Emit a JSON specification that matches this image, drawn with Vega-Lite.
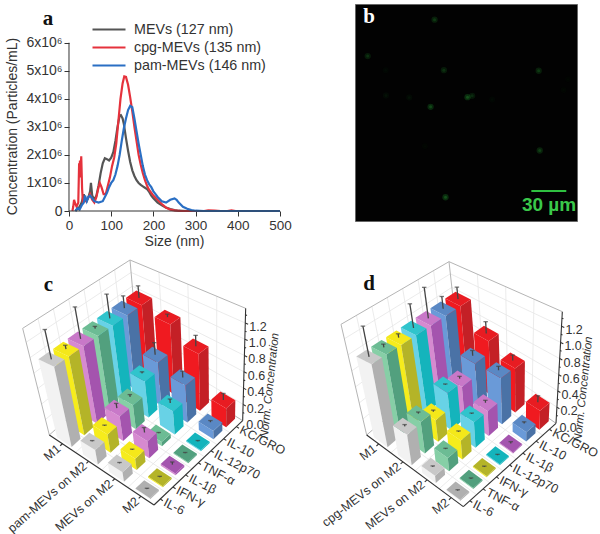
{
"$schema":"https://vega.github.io/schema/vega-lite/v6.json",
"background":"white",
"padding":{"left":0,"top":3,"right":0,"bottom":0},
"config":{"view":{"stroke":null},"font":"Liberation Sans"},
"spacing":9,
"datasets":{
"sizes":[
{"s":"MEVs (127 nm)","size":15,"n":0},{"s":"MEVs (127 nm)","size":20,"n":0.08},{"s":"MEVs (127 nm)","size":25,"n":0.15},{"s":"MEVs (127 nm)","size":30,"n":0.3},{"s":"MEVs (127 nm)","size":35,"n":0.6},{"s":"MEVs (127 nm)","size":38,"n":0.4},{"s":"MEVs (127 nm)","size":42,"n":0.35},{"s":"MEVs (127 nm)","size":46,"n":0.5},{"s":"MEVs (127 nm)","size":50,"n":0.7},{"s":"MEVs (127 nm)","size":52,"n":1.0},{"s":"MEVs (127 nm)","size":55,"n":0.55},{"s":"MEVs (127 nm)","size":60,"n":0.4},{"s":"MEVs (127 nm)","size":65,"n":0.55},{"s":"MEVs (127 nm)","size":70,"n":0.9},{"s":"MEVs (127 nm)","size":75,"n":1.35},{"s":"MEVs (127 nm)","size":80,"n":1.7},{"s":"MEVs (127 nm)","size":85,"n":1.88},{"s":"MEVs (127 nm)","size":90,"n":1.85},{"s":"MEVs (127 nm)","size":95,"n":1.8},{"s":"MEVs (127 nm)","size":100,"n":1.9},{"s":"MEVs (127 nm)","size":105,"n":2.1},{"s":"MEVs (127 nm)","size":110,"n":2.5},{"s":"MEVs (127 nm)","size":115,"n":3.0},{"s":"MEVs (127 nm)","size":120,"n":3.4},{"s":"MEVs (127 nm)","size":123,"n":3.42},{"s":"MEVs (127 nm)","size":127,"n":3.3},{"s":"MEVs (127 nm)","size":130,"n":3.1},{"s":"MEVs (127 nm)","size":135,"n":2.6},{"s":"MEVs (127 nm)","size":140,"n":2.15},{"s":"MEVs (127 nm)","size":145,"n":1.75},{"s":"MEVs (127 nm)","size":150,"n":1.45},{"s":"MEVs (127 nm)","size":155,"n":1.25},{"s":"MEVs (127 nm)","size":160,"n":1.1},{"s":"MEVs (127 nm)","size":165,"n":1.0},{"s":"MEVs (127 nm)","size":170,"n":0.93},{"s":"MEVs (127 nm)","size":175,"n":0.88},{"s":"MEVs (127 nm)","size":180,"n":0.83},{"s":"MEVs (127 nm)","size":185,"n":0.78},{"s":"MEVs (127 nm)","size":190,"n":0.68},{"s":"MEVs (127 nm)","size":195,"n":0.55},{"s":"MEVs (127 nm)","size":200,"n":0.45},{"s":"MEVs (127 nm)","size":210,"n":0.3},{"s":"MEVs (127 nm)","size":220,"n":0.2},{"s":"MEVs (127 nm)","size":230,"n":0.12},{"s":"MEVs (127 nm)","size":240,"n":0.07},{"s":"MEVs (127 nm)","size":250,"n":0.03},{"s":"MEVs (127 nm)","size":260,"n":0.01},{"s":"MEVs (127 nm)","size":280,"n":0},{"s":"MEVs (127 nm)","size":500,"n":0},
{"s":"cpg-MEVs (135 nm)","size":8,"n":0},{"s":"cpg-MEVs (135 nm)","size":10,"n":0.15},{"s":"cpg-MEVs (135 nm)","size":12,"n":0.4},{"s":"cpg-MEVs (135 nm)","size":15,"n":0.25},{"s":"cpg-MEVs (135 nm)","size":18,"n":0.15},{"s":"cpg-MEVs (135 nm)","size":22,"n":0.3},{"s":"cpg-MEVs (135 nm)","size":24,"n":1.7},{"s":"cpg-MEVs (135 nm)","size":25,"n":1.3},{"s":"cpg-MEVs (135 nm)","size":26,"n":1.8},{"s":"cpg-MEVs (135 nm)","size":27,"n":1.2},{"s":"cpg-MEVs (135 nm)","size":29,"n":1.95},{"s":"cpg-MEVs (135 nm)","size":31,"n":0.8},{"s":"cpg-MEVs (135 nm)","size":33,"n":0.3},{"s":"cpg-MEVs (135 nm)","size":36,"n":0.4},{"s":"cpg-MEVs (135 nm)","size":40,"n":0.35},{"s":"cpg-MEVs (135 nm)","size":45,"n":0.45},{"s":"cpg-MEVs (135 nm)","size":50,"n":0.6},{"s":"cpg-MEVs (135 nm)","size":55,"n":0.4},{"s":"cpg-MEVs (135 nm)","size":60,"n":0.3},{"s":"cpg-MEVs (135 nm)","size":65,"n":0.5},{"s":"cpg-MEVs (135 nm)","size":70,"n":0.85},{"s":"cpg-MEVs (135 nm)","size":73,"n":1.0},{"s":"cpg-MEVs (135 nm)","size":77,"n":0.85},{"s":"cpg-MEVs (135 nm)","size":82,"n":0.6},{"s":"cpg-MEVs (135 nm)","size":87,"n":0.6},{"s":"cpg-MEVs (135 nm)","size":92,"n":0.9},{"s":"cpg-MEVs (135 nm)","size":97,"n":1.2},{"s":"cpg-MEVs (135 nm)","size":102,"n":1.6},{"s":"cpg-MEVs (135 nm)","size":107,"n":1.9},{"s":"cpg-MEVs (135 nm)","size":112,"n":2.4},{"s":"cpg-MEVs (135 nm)","size":117,"n":3.2},{"s":"cpg-MEVs (135 nm)","size":122,"n":4.0},{"s":"cpg-MEVs (135 nm)","size":127,"n":4.55},{"s":"cpg-MEVs (135 nm)","size":131,"n":4.8},{"s":"cpg-MEVs (135 nm)","size":135,"n":4.78},{"s":"cpg-MEVs (135 nm)","size":140,"n":4.5},{"s":"cpg-MEVs (135 nm)","size":145,"n":4.05},{"s":"cpg-MEVs (135 nm)","size":150,"n":3.55},{"s":"cpg-MEVs (135 nm)","size":155,"n":3.0},{"s":"cpg-MEVs (135 nm)","size":160,"n":2.5},{"s":"cpg-MEVs (135 nm)","size":165,"n":2.0},{"s":"cpg-MEVs (135 nm)","size":170,"n":1.65},{"s":"cpg-MEVs (135 nm)","size":175,"n":1.35},{"s":"cpg-MEVs (135 nm)","size":180,"n":1.1},{"s":"cpg-MEVs (135 nm)","size":185,"n":0.9},{"s":"cpg-MEVs (135 nm)","size":190,"n":0.75},{"s":"cpg-MEVs (135 nm)","size":200,"n":0.55},{"s":"cpg-MEVs (135 nm)","size":210,"n":0.4},{"s":"cpg-MEVs (135 nm)","size":220,"n":0.25},{"s":"cpg-MEVs (135 nm)","size":230,"n":0.12},{"s":"cpg-MEVs (135 nm)","size":240,"n":0.05},{"s":"cpg-MEVs (135 nm)","size":250,"n":0.02},{"s":"cpg-MEVs (135 nm)","size":265,"n":0},{"s":"cpg-MEVs (135 nm)","size":320,"n":0},{"s":"cpg-MEVs (135 nm)","size":330,"n":0.02},{"s":"cpg-MEVs (135 nm)","size":345,"n":0.01},{"s":"cpg-MEVs (135 nm)","size":360,"n":0},{"s":"cpg-MEVs (135 nm)","size":375,"n":0},{"s":"cpg-MEVs (135 nm)","size":385,"n":0.02},{"s":"cpg-MEVs (135 nm)","size":395,"n":0},{"s":"cpg-MEVs (135 nm)","size":500,"n":0},
{"s":"pam-MEVs (146 nm)","size":15,"n":0},{"s":"pam-MEVs (146 nm)","size":20,"n":0.1},{"s":"pam-MEVs (146 nm)","size":25,"n":0.05},{"s":"pam-MEVs (146 nm)","size":30,"n":0.2},{"s":"pam-MEVs (146 nm)","size":35,"n":0.3},{"s":"pam-MEVs (146 nm)","size":38,"n":0.55},{"s":"pam-MEVs (146 nm)","size":42,"n":0.35},{"s":"pam-MEVs (146 nm)","size":46,"n":0.5},{"s":"pam-MEVs (146 nm)","size":50,"n":0.55},{"s":"pam-MEVs (146 nm)","size":55,"n":0.45},{"s":"pam-MEVs (146 nm)","size":60,"n":0.35},{"s":"pam-MEVs (146 nm)","size":70,"n":0.3},{"s":"pam-MEVs (146 nm)","size":80,"n":0.35},{"s":"pam-MEVs (146 nm)","size":85,"n":0.5},{"s":"pam-MEVs (146 nm)","size":90,"n":0.65},{"s":"pam-MEVs (146 nm)","size":95,"n":0.85},{"s":"pam-MEVs (146 nm)","size":100,"n":1.0},{"s":"pam-MEVs (146 nm)","size":105,"n":1.1},{"s":"pam-MEVs (146 nm)","size":110,"n":1.3},{"s":"pam-MEVs (146 nm)","size":115,"n":1.6},{"s":"pam-MEVs (146 nm)","size":120,"n":2.0},{"s":"pam-MEVs (146 nm)","size":125,"n":2.5},{"s":"pam-MEVs (146 nm)","size":130,"n":2.95},{"s":"pam-MEVs (146 nm)","size":135,"n":3.3},{"s":"pam-MEVs (146 nm)","size":140,"n":3.6},{"s":"pam-MEVs (146 nm)","size":145,"n":3.75},{"s":"pam-MEVs (146 nm)","size":150,"n":3.7},{"s":"pam-MEVs (146 nm)","size":155,"n":3.3},{"s":"pam-MEVs (146 nm)","size":160,"n":2.85},{"s":"pam-MEVs (146 nm)","size":165,"n":2.4},{"s":"pam-MEVs (146 nm)","size":170,"n":2.0},{"s":"pam-MEVs (146 nm)","size":175,"n":1.6},{"s":"pam-MEVs (146 nm)","size":180,"n":1.3},{"s":"pam-MEVs (146 nm)","size":185,"n":1.1},{"s":"pam-MEVs (146 nm)","size":190,"n":0.95},{"s":"pam-MEVs (146 nm)","size":195,"n":0.85},{"s":"pam-MEVs (146 nm)","size":200,"n":0.7},{"s":"pam-MEVs (146 nm)","size":205,"n":0.6},{"s":"pam-MEVs (146 nm)","size":210,"n":0.5},{"s":"pam-MEVs (146 nm)","size":220,"n":0.35},{"s":"pam-MEVs (146 nm)","size":230,"n":0.3},{"s":"pam-MEVs (146 nm)","size":240,"n":0.4},{"s":"pam-MEVs (146 nm)","size":250,"n":0.45},{"s":"pam-MEVs (146 nm)","size":255,"n":0.4},{"s":"pam-MEVs (146 nm)","size":260,"n":0.3},{"s":"pam-MEVs (146 nm)","size":270,"n":0.15},{"s":"pam-MEVs (146 nm)","size":280,"n":0.08},{"s":"pam-MEVs (146 nm)","size":290,"n":0.03},{"s":"pam-MEVs (146 nm)","size":300,"n":0.01},{"s":"pam-MEVs (146 nm)","size":320,"n":0},{"s":"pam-MEVs (146 nm)","size":500,"n":0}
],
"spots":[
{"x":68.3,"y":13.4,"i":0.7},{"x":10.9,"y":44.6,"i":0.6},{"x":76.3,"y":56.6,"i":0.6},{"x":157.7,"y":57.1,"i":0.7},{"x":96.6,"y":79.7,"i":1},{"x":100.6,"y":78.6,"i":0.5},{"x":64.9,"y":88,"i":0.9},{"x":158.6,"y":125.4,"i":0.8},{"x":77.7,"y":165.4,"i":1},
{"x":26.6,"y":78.3,"i":0.2},{"x":46.6,"y":80,"i":0.2},{"x":26.3,"y":56.6,"i":0.12},{"x":117.7,"y":81.7,"i":0.12},{"x":60,"y":121.7,"i":0.1},{"x":179.1,"y":73.7,"i":0.1},{"x":182.9,"y":64.3,"i":0.08}
],
"grid":[
{"k":"g","u":[0,0],"v":[0,1],"h":[0.2,0.2]},{"k":"g","u":[0,0],"v":[0,1],"h":[0.4,0.4]},{"k":"g","u":[0,0],"v":[0,1],"h":[0.6,0.6]},{"k":"g","u":[0,0],"v":[0,1],"h":[0.8,0.8]},{"k":"g","u":[0,0],"v":[0,1],"h":[1,1]},{"k":"g","u":[0,0],"v":[0,1],"h":[1.2,1.2]},
{"k":"g","u":[0,1],"v":[1,1],"h":[0.2,0.2]},{"k":"g","u":[0,1],"v":[1,1],"h":[0.4,0.4]},{"k":"g","u":[0,1],"v":[1,1],"h":[0.6,0.6]},{"k":"g","u":[0,1],"v":[1,1],"h":[0.8,0.8]},{"k":"g","u":[0,1],"v":[1,1],"h":[1,1]},{"k":"g","u":[0,1],"v":[1,1],"h":[1.2,1.2]},
{"k":"g","u":[0,0],"v":[0.143,0.143],"h":[0,1.38]},{"k":"g","u":[0,0],"v":[0.286,0.286],"h":[0,1.38]},{"k":"g","u":[0,0],"v":[0.429,0.429],"h":[0,1.38]},{"k":"g","u":[0,0],"v":[0.571,0.571],"h":[0,1.38]},{"k":"g","u":[0,0],"v":[0.714,0.714],"h":[0,1.38]},{"k":"g","u":[0,0],"v":[0.857,0.857],"h":[0,1.38]},
{"k":"g","u":[0.25,0.25],"v":[1,1],"h":[0,1.38]},{"k":"g","u":[0.5,0.5],"v":[1,1],"h":[0,1.38]},{"k":"g","u":[0.75,0.75],"v":[1,1],"h":[0,1.38]},
{"k":"g","u":[0.25,0.25],"v":[0,1],"h":[0,0]},{"k":"g","u":[0.5,0.5],"v":[0,1],"h":[0,0]},{"k":"g","u":[0.75,0.75],"v":[0,1],"h":[0,0]},
{"k":"g","u":[0,1],"v":[0.143,0.143],"h":[0,0]},{"k":"g","u":[0,1],"v":[0.286,0.286],"h":[0,0]},{"k":"g","u":[0,1],"v":[0.429,0.429],"h":[0,0]},{"k":"g","u":[0,1],"v":[0.571,0.571],"h":[0,0]},{"k":"g","u":[0,1],"v":[0.714,0.714],"h":[0,0]},{"k":"g","u":[0,1],"v":[0.857,0.857],"h":[0,0]},
{"k":"f","u":[0,0],"v":[0,0],"h":[0,1.38]},{"k":"f","u":[0,0],"v":[0,1],"h":[1.38,1.38]},{"k":"f","u":[0,1],"v":[1,1],"h":[1.38,1.38]},{"k":"f","u":[0,0],"v":[1,1],"h":[0,1.38]},{"k":"f","u":[0,0],"v":[0,1],"h":[0,0]},{"k":"f","u":[0,1],"v":[1,1],"h":[0,0]},
{"k":"a","u":[0,1],"v":[0,0],"h":[0,0]},{"k":"a","u":[1,1],"v":[0,1],"h":[0,0]},{"k":"a","u":[1,1],"v":[1,1],"h":[0,1.38]},
{"k":"a","u":[0.125,0.125],"v":[0,-0.025],"h":[0,0]},{"k":"a","u":[0.375,0.375],"v":[0,-0.025],"h":[0,0]},{"k":"a","u":[0.625,0.625],"v":[0,-0.025],"h":[0,0]},{"k":"a","u":[0.875,0.875],"v":[0,-0.025],"h":[0,0]},
{"k":"a","u":[1,1.025],"v":[0.071,0.071],"h":[0,0]},{"k":"a","u":[1,1.025],"v":[0.214,0.214],"h":[0,0]},{"k":"a","u":[1,1.025],"v":[0.357,0.357],"h":[0,0]},{"k":"a","u":[1,1.025],"v":[0.5,0.5],"h":[0,0]},{"k":"a","u":[1,1.025],"v":[0.643,0.643],"h":[0,0]},{"k":"a","u":[1,1.025],"v":[0.786,0.786],"h":[0,0]},{"k":"a","u":[1,1.025],"v":[0.929,0.929],"h":[0,0]},
{"k":"a","u":[1,1.025],"v":[1,1],"h":[0.2,0.2]},{"k":"a","u":[1,1.025],"v":[1,1],"h":[0.4,0.4]},{"k":"a","u":[1,1.025],"v":[1,1],"h":[0.6,0.6]},{"k":"a","u":[1,1.025],"v":[1,1],"h":[0.8,0.8]},{"k":"a","u":[1,1.025],"v":[1,1],"h":[1,1]},{"k":"a","u":[1,1.025],"v":[1,1],"h":[1.2,1.2]},
{"k":"a","u":[1,1.013],"v":[1,1],"h":[0.1,0.1]},{"k":"a","u":[1,1.013],"v":[1,1],"h":[0.3,0.3]},{"k":"a","u":[1,1.013],"v":[1,1],"h":[0.5,0.5]},{"k":"a","u":[1,1.013],"v":[1,1],"h":[0.7,0.7]},{"k":"a","u":[1,1.013],"v":[1,1],"h":[0.9,0.9]},{"k":"a","u":[1,1.013],"v":[1,1],"h":[1.1,1.1]},{"k":"a","u":[1,1.013],"v":[1,1],"h":[1.3,1.3]}
],
"labelsC":[
{"a":"u","t":"M1","u":0.125,"v":-0.04,"h":0},{"a":"u","t":"pam-MEVs on M2","u":0.375,"v":-0.04,"h":0},{"a":"u","t":"MEVs on M2","u":0.625,"v":-0.04,"h":0},{"a":"u","t":"M2","u":0.875,"v":-0.04,"h":0},
{"a":"v","t":"IL-6","u":1.04,"v":0.071,"h":0},{"a":"v","t":"IFN-γ","u":1.04,"v":0.214,"h":0},{"a":"v","t":"IL-1β","u":1.04,"v":0.357,"h":0},{"a":"v","t":"TNF-α","u":1.04,"v":0.5,"h":0},{"a":"v","t":"IL-12p70","u":1.04,"v":0.643,"h":0},{"a":"v","t":"IL-10","u":1.04,"v":0.786,"h":0},{"a":"v","t":"KC/GRO","u":1.04,"v":0.929,"h":0},
{"a":"z","t":"0.0","u":1.035,"v":1,"h":0},{"a":"z","t":"0.2","u":1.035,"v":1,"h":0.2},{"a":"z","t":"0.4","u":1.035,"v":1,"h":0.4},{"a":"z","t":"0.6","u":1.035,"v":1,"h":0.6},{"a":"z","t":"0.8","u":1.035,"v":1,"h":0.8},{"a":"z","t":"1.0","u":1.035,"v":1,"h":1},{"a":"z","t":"1.2","u":1.035,"v":1,"h":1.2},
{"a":"t","t":"Norm. Concentration","u":1.24,"v":1,"h":0.6}
],
"labelsD":[
{"a":"u","t":"M1","u":0.125,"v":-0.04,"h":0},{"a":"u","t":"cpg-MEVs on M2","u":0.375,"v":-0.04,"h":0},{"a":"u","t":"MEVs on M2","u":0.625,"v":-0.04,"h":0},{"a":"u","t":"M2","u":0.875,"v":-0.04,"h":0},
{"a":"v","t":"IL-6","u":1.04,"v":0.071,"h":0},{"a":"v","t":"TNF-α","u":1.04,"v":0.214,"h":0},{"a":"v","t":"IFN-γ","u":1.04,"v":0.357,"h":0},{"a":"v","t":"IL-12p70","u":1.04,"v":0.5,"h":0},{"a":"v","t":"IL-1β","u":1.04,"v":0.643,"h":0},{"a":"v","t":"IL-10","u":1.04,"v":0.786,"h":0},{"a":"v","t":"KC/GRO","u":1.04,"v":0.929,"h":0},
{"a":"z","t":"0.0","u":1.035,"v":1,"h":0},{"a":"z","t":"0.2","u":1.035,"v":1,"h":0.2},{"a":"z","t":"0.4","u":1.035,"v":1,"h":0.4},{"a":"z","t":"0.6","u":1.035,"v":1,"h":0.6},{"a":"z","t":"0.8","u":1.035,"v":1,"h":0.8},{"a":"z","t":"1.0","u":1.035,"v":1,"h":1},{"a":"z","t":"1.2","u":1.035,"v":1,"h":1.2},
{"a":"t","t":"Norm. Concentration","u":1.24,"v":1,"h":0.6}
],
"barsC":[
{"g":"M1","c":"KC/GRO","value":1,"err":0.17},{"g":"M1","c":"IL-10","value":1,"err":0.17},{"g":"M1","c":"IL-12p70","value":1,"err":0.33},{"g":"M1","c":"TNF-α","value":1,"err":0.03},{"g":"M1","c":"IL-1β","value":1,"err":0.42},{"g":"M1","c":"IFN-γ","value":1,"err":0.05},{"g":"M1","c":"IL-6","value":1,"err":0.38},
{"g":"pam-MEVs on M2","c":"KC/GRO","value":0.92,"err":0.04},{"g":"pam-MEVs on M2","c":"IL-10","value":0.56,"err":0.16},{"g":"pam-MEVs on M2","c":"IL-12p70","value":0.46,"err":0.02},{"g":"pam-MEVs on M2","c":"TNF-α","value":0.3,"err":0.03},{"g":"pam-MEVs on M2","c":"IL-1β","value":0.3,"err":0.06},{"g":"pam-MEVs on M2","c":"IFN-γ","value":0.22,"err":0.01},{"g":"pam-MEVs on M2","c":"IL-6","value":0.17,"err":0.01},
{"g":"MEVs on M2","c":"KC/GRO","value":0.72,"err":0.14},{"g":"MEVs on M2","c":"IL-10","value":0.46,"err":0.08},{"g":"MEVs on M2","c":"IL-12p70","value":0.28,"err":0.05},{"g":"MEVs on M2","c":"TNF-α","value":0.05,"err":0.01},{"g":"MEVs on M2","c":"IL-1β","value":0.2,"err":0.06},{"g":"MEVs on M2","c":"IFN-γ","value":0.13,"err":0.01},{"g":"MEVs on M2","c":"IL-6","value":0.11,"err":0.01},
{"g":"M2","c":"KC/GRO","value":0.23,"err":0.08},{"g":"M2","c":"IL-10","value":0.1,"err":0.02},{"g":"M2","c":"IL-12p70","value":0.012,"err":0.01},{"g":"M2","c":"TNF-α","value":0.012,"err":0.01},{"g":"M2","c":"IL-1β","value":0.02,"err":0.03},{"g":"M2","c":"IFN-γ","value":0.012,"err":0.01},{"g":"M2","c":"IL-6","value":0.012,"err":0.01}
],
"barsD":[
{"g":"M1","c":"KC/GRO","value":1,"err":0.17},{"g":"M1","c":"IL-10","value":1,"err":0.17},{"g":"M1","c":"IL-1β","value":1,"err":0.42},{"g":"M1","c":"IL-12p70","value":1,"err":0.32},{"g":"M1","c":"IFN-γ","value":1,"err":0.05},{"g":"M1","c":"TNF-α","value":1,"err":0.04},{"g":"M1","c":"IL-6","value":1,"err":0.38},
{"g":"cpg-MEVs on M2","c":"KC/GRO","value":0.72,"err":0.16},{"g":"cpg-MEVs on M2","c":"IL-10","value":0.56,"err":0.07},{"g":"cpg-MEVs on M2","c":"IL-1β","value":0.4,"err":0.03},{"g":"cpg-MEVs on M2","c":"IL-12p70","value":0.46,"err":0.01},{"g":"cpg-MEVs on M2","c":"IFN-γ","value":0.26,"err":0.02},{"g":"cpg-MEVs on M2","c":"TNF-α","value":0.37,"err":0.02},{"g":"cpg-MEVs on M2","c":"IL-6","value":0.35,"err":0.02},
{"g":"MEVs on M2","c":"KC/GRO","value":0.56,"err":0.07},{"g":"MEVs on M2","c":"IL-10","value":0.57,"err":0.05},{"g":"MEVs on M2","c":"IL-1β","value":0.3,"err":0.03},{"g":"MEVs on M2","c":"IL-12p70","value":0.3,"err":0.01},{"g":"MEVs on M2","c":"IFN-γ","value":0.22,"err":0.01},{"g":"MEVs on M2","c":"TNF-α","value":0.15,"err":0.01},{"g":"MEVs on M2","c":"IL-6","value":0.08,"err":0.01},
{"g":"M2","c":"KC/GRO","value":0.23,"err":0.08},{"g":"M2","c":"IL-10","value":0.11,"err":0.02},{"g":"M2","c":"IL-1β","value":0.012,"err":0.02},{"g":"M2","c":"IL-12p70","value":0.012,"err":0.01},{"g":"M2","c":"IFN-γ","value":0.012,"err":0.01},{"g":"M2","c":"TNF-α","value":0.012,"err":0.01},{"g":"M2","c":"IL-6","value":0.012,"err":0.01}
]
},
"vconcat":[
{"hconcat":[
{"width":280,"height":207,
"encoding":{
"x":{"field":"size","type":"quantitative","scale":{"domain":[-163.5,500],"nice":false},"axis":{"values":[0,100,200,300,400,500],"title":"Size (nm)","titleFontSize":14,"titleFontWeight":"normal","labelFontSize":13.5,"labelColor":"#333","titleColor":"#333","grid":false,"domain":false,"tickColor":"#333","tickSize":5,"titlePadding":3,"labelPadding":2,"titleX":174,"labelFlush":false}},
"y":{"field":"n","type":"quantitative","scale":{"domain":[0,7.38],"nice":false},"axis":{"values":[0,1,2,3,4,5,6],"labelExpr":"datum.value==0?'0':datum.value+'x10⁶'","title":"Concentration (Particles/mL)","titleFontSize":14,"titleFontWeight":"normal","labelFontSize":14,"labelColor":"#333","titleColor":"#333","grid":false,"domain":false,"tickColor":"#333","tickSize":5,"labelPadding":2,"offset":-69,"titleX":-50,"titleY":122,"labelOverlap":false}}
},
"layer":[
{"data":{"name":"sizes"},"mark":{"type":"line","strokeWidth":2.2},
"encoding":{
"color":{"field":"s","type":"nominal","scale":{"domain":["MEVs (127 nm)","cpg-MEVs (135 nm)","pam-MEVs (146 nm)"],"range":["#555555","#e5323c","#2a6fc4"]},"legend":{"orient":"none","legendX":91,"legendY":17,"title":null,"symbolType":"stroke","symbolStrokeWidth":2.2,"symbolSize":1089,"labelFontSize":14.3,"labelColor":"#333","rowPadding":1,"clipHeight":17,"labelOffset":7}},
"order":{"field":"size"}
}},
{"data":{"values":[{"size":0,"n":0,"n2":6}]},"mark":{"type":"rule","color":"#333"},"encoding":{"y2":{"field":"n2"}}},
{"data":{"values":[{"size":0,"n":0,"s2":500}]},"mark":{"type":"rule","color":"#333"},"encoding":{"x2":{"field":"s2"}}},
{"data":{"values":[{"size":-50,"n":6.84,"t":"a"}]},"mark":{"type":"text","font":"Liberation Serif","fontWeight":"bold","fontSize":21,"color":"#111"},"encoding":{"text":{"field":"t"}}}
]},
{"width":222,"height":217,"view":{"fill":"#020202","stroke":"#666666"},
"encoding":{
"x":{"field":"x","type":"quantitative","scale":{"domain":[0,190.6],"nice":false},"axis":null},
"y":{"field":"y","type":"quantitative","scale":{"domain":[185.7,0],"nice":false},"axis":null}},
"layer":[
{"data":{"name":"spots"},"mark":{"type":"circle","color":"#2fd040"},"encoding":{
"opacity":{"field":"i","type":"quantitative","scale":{"domain":[0,1],"range":[0,0.2]},"legend":null},
"size":{"value":40}}},
{"data":{"name":"spots"},"mark":{"type":"circle","color":"#35e04a"},"encoding":{
"opacity":{"field":"i","type":"quantitative","scale":{"domain":[0,1],"range":[0,1]},"legend":null},
"size":{"value":9}}},
{"data":{"values":[{"x":151.4,"x2":181.4,"y":160}]},"mark":{"type":"rule","color":"#2fc040","strokeWidth":2},"encoding":{"x2":{"field":"x2"}}},
{"data":{"values":[{"x":166.6,"y":172,"t":"30 µm"}]},"mark":{"type":"text","color":"#3ac84a","fontWeight":"bold","fontSize":19,"font":"Liberation Sans"},"encoding":{"text":{"field":"t"}}},
{"data":{"values":[{"x":12,"y":11,"t":"b"}]},"mark":{"type":"text","color":"#ffffff","fontWeight":"bold","fontSize":21,"font":"Liberation Serif"},"encoding":{"text":{"field":"t"}}}
]}
],"spacing":62},
{"hconcat":[
{"width":300,"height":274,
"encoding":{"x":{"field":"px","type":"quantitative","scale":{"domain":[0,900],"nice":false},"axis":null},"y":{"field":"py","type":"quantitative","scale":{"domain":[822,0],"nice":false},"axis":null}},
"layer":[
{"data":{"name":"grid"},"transform":[{"window":[{"op":"row_number","as":"id"}]},{"flatten":["u","v","h"]},
{"calculate":"(1-datum.h/1.38)*(148+314*datum.u+267*datum.v-datum.u*datum.v)+datum.h/1.38*(68+347*datum.u+322*datum.v)","as":"px"},
{"calculate":"(1-datum.h/1.38)*(525+210*datum.u-240*datum.v-13*datum.u*datum.v)+datum.h/1.38*(205+145*datum.u-205*datum.v)","as":"py"}],
"encoding":{"detail":{"field":"id"}},
"layer":[
{"transform":[{"filter":"datum.k=='g'"}],"mark":{"type":"line","stroke":"#e6e6e6","strokeWidth":0.8}},
{"transform":[{"filter":"datum.k=='f'"}],"mark":{"type":"line","stroke":"#b5b5b5","strokeWidth":1}},
{"transform":[{"filter":"datum.k=='a'"}],"mark":{"type":"line","stroke":"#333333","strokeWidth":1.1}}
]},
{"data":{"name":"barsC"},"transform":[
{"calculate":"indexof(['M1','pam-MEVs on M2','MEVs on M2','M2'],datum.g)","as":"gi"},
{"calculate":"indexof(['IL-6','IFN-γ','IL-1β','TNF-α','IL-12p70','IL-10','KC/GRO'],datum.c)","as":"ci"},
{"calculate":"[0,1,2]","as":"face"},{"flatten":["face"]},{"calculate":"[0,1,2,3]","as":"k"},{"flatten":["k"]},
{"calculate":"(datum.gi+0.5)/4+0.07*[[-1,1,1,-1],[1,1,1,1],[-1,1,1,-1]][datum.face][datum.k]","as":"u"},
{"calculate":"(datum.ci+0.5)/7+0.05*[[-1,-1,-1,-1],[-1,1,1,-1],[-1,-1,1,1]][datum.face][datum.k]","as":"v"},
{"calculate":"datum.value*[[0,0,1,1],[0,0,1,1],[1,1,1,1]][datum.face][datum.k]","as":"h"},
{"calculate":"(1-datum.h/1.38)*(148+314*datum.u+267*datum.v-datum.u*datum.v)+datum.h/1.38*(68+347*datum.u+322*datum.v)","as":"px"},
{"calculate":"(1-datum.h/1.38)*(525+210*datum.u-240*datum.v-13*datum.u*datum.v)+datum.h/1.38*(205+145*datum.u-205*datum.v)","as":"py"},
{"calculate":"datum.c+'-'+(datum.face==0?'L':(datum.face==1||datum.value<0.03)?'D':'T')","as":"fk"},
{"calculate":"datum.g+'|'+datum.c+'|'+datum.face","as":"pid"}],
"mark":{"type":"line","strokeWidth":0},
"encoding":{"detail":{"field":"pid"},"order":{"field":"k"},
"fill":{"field":"fk","type":"nominal","legend":null,"scale":{"domain":["IL-6-L","IL-6-D","IL-6-T","IFN-γ-L","IFN-γ-D","IFN-γ-T","IL-1β-L","IL-1β-D","IL-1β-T","TNF-α-L","TNF-α-D","TNF-α-T","IL-12p70-L","IL-12p70-D","IL-12p70-T","IL-10-L","IL-10-D","IL-10-T","KC/GRO-L","KC/GRO-D","KC/GRO-T"],"range":["#f2f2f2","#b0b0b0","#c8c8c8","#f6ec1c","#b4b428","#f4e81a","#d68ad0","#a454ae","#c878c8","#86cfa6","#52a07e","#6cbc94","#68d2e6","#14b4bc","#30c4cc","#6a9ad8","#4a72a6","#5a88c4","#f01a20","#c42026","#e81c22"]}}}},
{"data":{"name":"barsC"},"transform":[
{"calculate":"(indexof(['M1','pam-MEVs on M2','MEVs on M2','M2'],datum.g)+0.5)/4","as":"u"},
{"calculate":"(indexof(['IL-6','IFN-γ','IL-1β','TNF-α','IL-12p70','IL-10','KC/GRO'],datum.c)+0.5)/7","as":"v"},
{"calculate":"[datum.value,datum.value+datum.err]","as":"h"},{"flatten":["h"]},
{"calculate":"(1-datum.h/1.38)*(148+314*datum.u+267*datum.v-datum.u*datum.v)+datum.h/1.38*(68+347*datum.u+322*datum.v)","as":"px"},
{"calculate":"(1-datum.h/1.38)*(525+210*datum.u-240*datum.v-13*datum.u*datum.v)+datum.h/1.38*(205+145*datum.u-205*datum.v)","as":"py"},
{"calculate":"datum.g+'|'+datum.c","as":"pid"}],
"layer":[
{"mark":{"type":"line","stroke":"#444444","strokeWidth":1.3},"encoding":{"detail":{"field":"pid"}}},
{"transform":[{"filter":"datum.h>datum.value"}],"mark":{"type":"point","shape":"stroke","stroke":"#444444","strokeWidth":1.3,"size":20}}
]},
{"data":{"name":"labelsC"},"transform":[
{"calculate":"(1-datum.h/1.38)*(148+314*datum.u+267*datum.v-datum.u*datum.v)+datum.h/1.38*(68+347*datum.u+322*datum.v)","as":"px"},
{"calculate":"(1-datum.h/1.38)*(525+210*datum.u-240*datum.v-13*datum.u*datum.v)+datum.h/1.38*(205+145*datum.u-205*datum.v)","as":"py"}],
"encoding":{"text":{"field":"t"}},
"layer":[
{"transform":[{"filter":"datum.a=='u'"}],"mark":{"type":"text","align":"right","baseline":"middle","angle":319,"fontSize":12.5,"color":"#333"}},
{"transform":[{"filter":"datum.a=='v'"}],"mark":{"type":"text","align":"left","baseline":"middle","angle":27,"fontSize":12.5,"color":"#333"}},
{"transform":[{"filter":"datum.a=='z'"}],"mark":{"type":"text","align":"left","baseline":"middle","fontSize":12.5,"color":"#333","dy":2}},
{"transform":[{"filter":"datum.a=='t'"}],"mark":{"type":"text","align":"center","baseline":"middle","angle":276,"fontSize":11.5,"fontStyle":"italic","color":"#333"}}
]},
{"data":{"values":[{"px":145,"py":75,"t":"c"}]},"mark":{"type":"text","font":"Liberation Serif","fontWeight":"bold","fontSize":21,"color":"#111"},"encoding":{"text":{"field":"t"}}}
]},
{"width":300,"height":274,
"encoding":{"x":{"field":"px","type":"quantitative","scale":{"domain":[0,900],"nice":false},"axis":null},"y":{"field":"py","type":"quantitative","scale":{"domain":[822,0],"nice":false},"axis":null}},
"layer":[
{"data":{"name":"grid"},"transform":[{"window":[{"op":"row_number","as":"id"}]},{"flatten":["u","v","h"]},
{"calculate":"(1-datum.h/1.38)*(200+290*datum.u+278*datum.v)+datum.h/1.38*(123+340*datum.u+324*datum.v)","as":"px"},
{"calculate":"(1-datum.h/1.38)*(525+215*datum.u-240*datum.v-10*datum.u*datum.v)+datum.h/1.38*(193+150*datum.u-188*datum.v)","as":"py"}],
"encoding":{"detail":{"field":"id"}},
"layer":[
{"transform":[{"filter":"datum.k=='g'"}],"mark":{"type":"line","stroke":"#e6e6e6","strokeWidth":0.8}},
{"transform":[{"filter":"datum.k=='f'"}],"mark":{"type":"line","stroke":"#b5b5b5","strokeWidth":1}},
{"transform":[{"filter":"datum.k=='a'"}],"mark":{"type":"line","stroke":"#333333","strokeWidth":1.1}}
]},
{"data":{"name":"barsD"},"transform":[
{"calculate":"indexof(['M1','cpg-MEVs on M2','MEVs on M2','M2'],datum.g)","as":"gi"},
{"calculate":"indexof(['IL-6','TNF-α','IFN-γ','IL-12p70','IL-1β','IL-10','KC/GRO'],datum.c)","as":"ci"},
{"calculate":"[0,1,2]","as":"face"},{"flatten":["face"]},{"calculate":"[0,1,2,3]","as":"k"},{"flatten":["k"]},
{"calculate":"(datum.gi+0.5)/4+0.07*[[-1,1,1,-1],[1,1,1,1],[-1,1,1,-1]][datum.face][datum.k]","as":"u"},
{"calculate":"(datum.ci+0.5)/7+0.05*[[-1,-1,-1,-1],[-1,1,1,-1],[-1,-1,1,1]][datum.face][datum.k]","as":"v"},
{"calculate":"datum.value*[[0,0,1,1],[0,0,1,1],[1,1,1,1]][datum.face][datum.k]","as":"h"},
{"calculate":"(1-datum.h/1.38)*(200+290*datum.u+278*datum.v)+datum.h/1.38*(123+340*datum.u+324*datum.v)","as":"px"},
{"calculate":"(1-datum.h/1.38)*(525+215*datum.u-240*datum.v-10*datum.u*datum.v)+datum.h/1.38*(193+150*datum.u-188*datum.v)","as":"py"},
{"calculate":"datum.c+'-'+(datum.face==0?'L':(datum.face==1||datum.value<0.03)?'D':'T')","as":"fk"},
{"calculate":"datum.g+'|'+datum.c+'|'+datum.face","as":"pid"}],
"mark":{"type":"line","strokeWidth":0},
"encoding":{"detail":{"field":"pid"},"order":{"field":"k"},
"fill":{"field":"fk","type":"nominal","legend":null,"scale":{"domain":["IL-6-L","IL-6-D","IL-6-T","IFN-γ-L","IFN-γ-D","IFN-γ-T","IL-1β-L","IL-1β-D","IL-1β-T","TNF-α-L","TNF-α-D","TNF-α-T","IL-12p70-L","IL-12p70-D","IL-12p70-T","IL-10-L","IL-10-D","IL-10-T","KC/GRO-L","KC/GRO-D","KC/GRO-T"],"range":["#f2f2f2","#b0b0b0","#c8c8c8","#f6ec1c","#b4b428","#f4e81a","#d68ad0","#a454ae","#c878c8","#86cfa6","#52a07e","#6cbc94","#68d2e6","#14b4bc","#30c4cc","#6a9ad8","#4a72a6","#5a88c4","#f01a20","#c42026","#e81c22"]}}}},
{"data":{"name":"barsD"},"transform":[
{"calculate":"(indexof(['M1','cpg-MEVs on M2','MEVs on M2','M2'],datum.g)+0.5)/4","as":"u"},
{"calculate":"(indexof(['IL-6','TNF-α','IFN-γ','IL-12p70','IL-1β','IL-10','KC/GRO'],datum.c)+0.5)/7","as":"v"},
{"calculate":"[datum.value,datum.value+datum.err]","as":"h"},{"flatten":["h"]},
{"calculate":"(1-datum.h/1.38)*(200+290*datum.u+278*datum.v)+datum.h/1.38*(123+340*datum.u+324*datum.v)","as":"px"},
{"calculate":"(1-datum.h/1.38)*(525+215*datum.u-240*datum.v-10*datum.u*datum.v)+datum.h/1.38*(193+150*datum.u-188*datum.v)","as":"py"},
{"calculate":"datum.g+'|'+datum.c","as":"pid"}],
"layer":[
{"mark":{"type":"line","stroke":"#444444","strokeWidth":1.3},"encoding":{"detail":{"field":"pid"}}},
{"transform":[{"filter":"datum.h>datum.value"}],"mark":{"type":"point","shape":"stroke","stroke":"#444444","strokeWidth":1.3,"size":20}}
]},
{"data":{"name":"labelsD"},"transform":[
{"calculate":"(1-datum.h/1.38)*(200+290*datum.u+278*datum.v)+datum.h/1.38*(123+340*datum.u+324*datum.v)","as":"px"},
{"calculate":"(1-datum.h/1.38)*(525+215*datum.u-240*datum.v-10*datum.u*datum.v)+datum.h/1.38*(193+150*datum.u-188*datum.v)","as":"py"}],
"encoding":{"text":{"field":"t"}},
"layer":[
{"transform":[{"filter":"datum.a=='u'"}],"mark":{"type":"text","align":"right","baseline":"middle","angle":322,"fontSize":12.5,"color":"#333"}},
{"transform":[{"filter":"datum.a=='v'"}],"mark":{"type":"text","align":"left","baseline":"middle","angle":27,"fontSize":12.5,"color":"#333"}},
{"transform":[{"filter":"datum.a=='z'"}],"mark":{"type":"text","align":"left","baseline":"middle","fontSize":12.5,"color":"#333","dy":2}},
{"transform":[{"filter":"datum.a=='t'"}],"mark":{"type":"text","align":"center","baseline":"middle","angle":276,"fontSize":11.5,"fontStyle":"italic","color":"#333"}}
]},
{"data":{"values":[{"px":207,"py":72,"t":"d"}]},"mark":{"type":"text","font":"Liberation Serif","fontWeight":"bold","fontSize":21,"color":"#111"},"encoding":{"text":{"field":"t"}}}
]}
],"spacing":0}
]
}
